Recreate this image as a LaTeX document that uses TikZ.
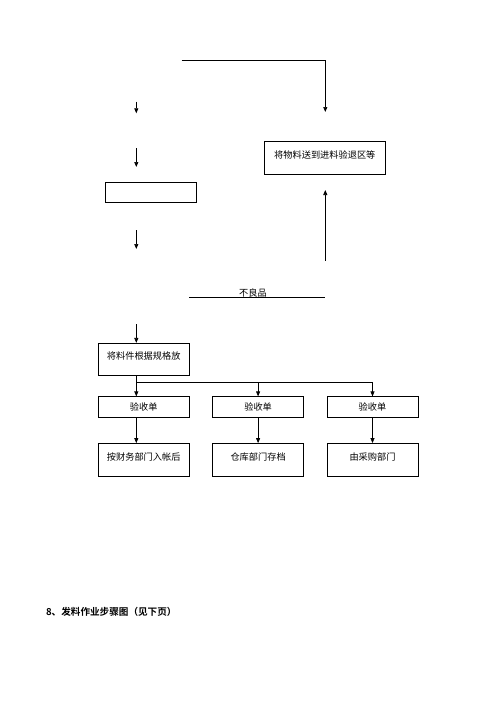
\documentclass[tikz,border=0pt]{standalone}
\usepackage{fontspec}
\setmainfont{Noto Sans CJK SC}[BoldFont={Noto Sans CJK SC Bold}]
\usetikzlibrary{arrows.meta,positioning}

\begin{document}
\begin{tikzpicture}[x=1pt, y=-1pt, >={Triangle[length=5pt,width=4pt]},
  font=\fontsize{9.2}{11}\selectfont, line width=0.7pt,
  box/.style={draw, minimum width=91pt, minimum height=20.3pt, inner sep=0pt},
  tallbox/.style={box, minimum height=32.5pt, text depth=7pt}]
  \useasboundingbox (0,0) rectangle (500,707);
  % boxes
  \node[tallbox, minimum width=121pt, minimum height=33.7pt] (ret) at (324.8,157.9) {将物料送到进料验退区等};
  \node[box] (blank) at (151.2,192.3) {};
  \node[tallbox] (sort) at (143.7,359.5) {将料件根据规格放};
  \node[box] (chk1) [below=20.3pt of sort] {验收单};
  \node[box] (chk2) [right=22.7pt of chk1] {验收单};
  \node[box] (chk3) [right=22.7pt of chk2] {验收单};
  \node[tallbox] (fin) [below=25.7pt of chk1] {按财务部门入帐后};
  \node[tallbox] (store) [below=25.7pt of chk2] {仓库部门存档};
  \node[tallbox] (buy) [below=25.7pt of chk3] {由采购部门};
  \node[anchor=west, inner sep=0pt, font=\fontsize{9.6}{12}\selectfont\bfseries] (title) at (45.7,611.7) {8、发料作业步骤图（见下页）};
  % loose ends
  \coordinate (topL) at (181.7,60.3);
  \coordinate (topR) at (325.3,112);
  \coordinate (a1s) at (136.3,101.7); \coordinate (a1e) at (136.3,113.3);
  \coordinate (a2s) at (136.3,148);   \coordinate (a2e) at (136.3,167);
  \coordinate (a3s) at (136.3,230);   \coordinate (a3e) at (136.3,249);
  \coordinate (upS) at (325.3,260.7); \coordinate (upE) at (325.3,190);
  \coordinate (badL) at (189,297.3);  \coordinate (badR) at (325,297.3);
  \coordinate (in) at (136.3,324);
  \coordinate (split) at (136.3,382.3);
  % connectors
  \draw[->] (topL) -| (topR);
  \foreach \s/\e in {a1s/a1e, a2s/a2e, a3s/a3e}
    \draw[->] (\s) -- (\e);
  \draw[->] (upS) -- (upE);
  \draw (badL) -- node[pos=0.47, above, inner sep=0pt, yshift=-0.5pt] {不良品} (badR);
  \draw[->] (in) -- (in |- sort.north);
  \draw (sort.south -| split) -- (split) -- (split -| chk3);
  \draw[->] (split) -- (split |- chk1.north);
  \draw[->] (split -| chk2) -- (chk2.north);
  \draw[->] (split -| chk3) -- (chk3.north);
  \draw[->] (chk1.south -| split) -- (split |- fin.north);
  \draw[->] (chk2) -- (store);
  \draw[->] (chk3) -- (buy);
\end{tikzpicture}
\end{document}
